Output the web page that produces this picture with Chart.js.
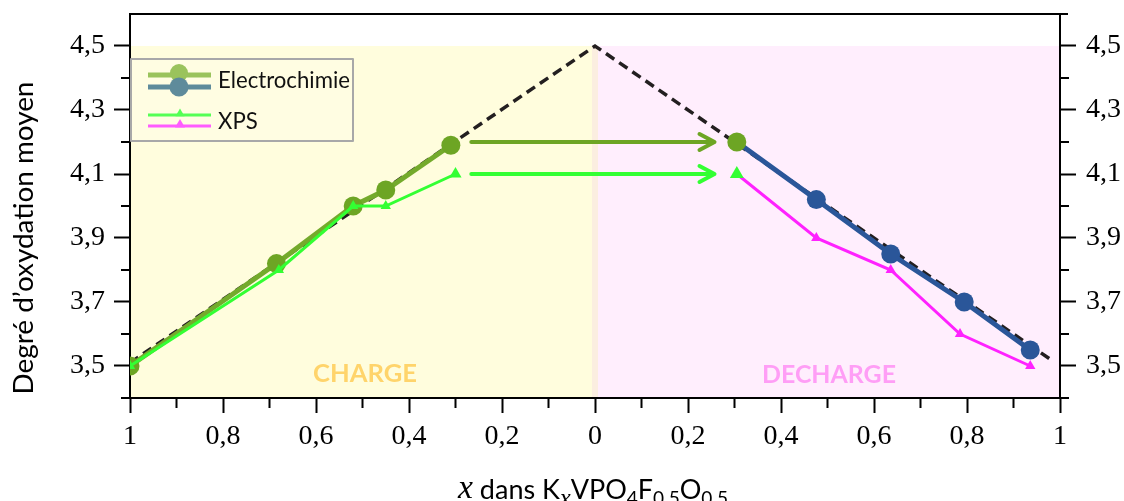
<!DOCTYPE html>
<html><head><meta charset="utf-8">
<script src="https://cdn.jsdelivr.net/npm/chart.js@4.4.1/dist/chart.umd.min.js"></script>
<style>html,body{margin:0;padding:0;background:#fff;}#wrap{width:1124px;height:501px;}</style>
</head><body><div id="wrap"><canvas id="c" width="1124" height="501"></canvas></div>
<script>
// ---- Data (x = value of x in KxVPO4F0.5O0.5) ----
const xTickPositions = [0, 0.2, 0.4, 0.6, 0.8, 1, 1.2, 1.4, 1.6, 1.8, 2];
const xTickLabels = ['1', '0,8', '0,6', '0,4', '0,2', '0', '0,2', '0,4', '0,6', '0,8', '1'];
const xMinorPositions = [0.1, 0.3, 0.5, 0.7, 0.9, 1.1, 1.3, 1.5, 1.7, 1.9];
const yTickValues = [3.5, 3.7, 3.9, 4.1, 4.3, 4.5];
const yTickLabels = ['3,5', '3,7', '3,9', '4,1', '4,3', '4,5'];
const yMinorValues = [3.4, 3.6, 3.8, 4.0, 4.2, 4.4];

const theoChargeX = [1, 0];
const theoChargeY = [3.51, 4.5];
const theoDischargeX = [0, 0.98];
const theoDischargeY = [4.5, 3.52];

const elecChargeX = [1, 0.685, 0.52, 0.45, 0.31];
const elecChargeY = [3.50, 3.82, 4.00, 4.05, 4.19];
const elecDischargeX = [0.305, 0.476, 0.636, 0.794, 0.936];
const elecDischargeY = [4.20, 4.02, 3.85, 3.70, 3.55];

const xpsChargeX = [1, 0.68, 0.52, 0.45, 0.30];
const xpsChargeY = [3.50, 3.80, 4.00, 4.00, 4.10];
const xpsDischargeX = [0.305, 0.476, 0.636, 0.785, 0.936];
const xpsDischargeY = [4.10, 3.90, 3.80, 3.60, 3.50];

const arrowFromX = [0.266, 0.266];   // charge side
const arrowToX = [0.257, 0.257];     // discharge side
const arrowY = [4.2, 4.1];
const arrowColors = ['#6DA524', '#33FF33'];

// position on the folded axis: charge runs 1 -> 0, discharge runs 0 -> 1
const chargePos = x => 1 - x;
const dischargePos = x => 1 + x;
const pts = (xs, ys, f) => xs.map((x, i) => ({x: f(x), y: ys[i]}));

const GREEN = '#6DA524', BLUE = '#2A5699', XGREEN = '#33FF33', MAG = '#FF22FF';

const theoData = pts(theoChargeX, theoChargeY, chargePos).concat(pts(theoDischargeX, theoDischargeY, dischargePos).slice(1));

function fitSize(ctx, text, style, family, target) {
  ctx.font = style + ' 100px ' + family;
  return 100 * target / ctx.measureText(text).width;
}

const decorPlugin = {
  id: 'decor',
  beforeDraw(chart) {
    const ctx = chart.ctx, xs = chart.scales.x, ys = chart.scales.y, ca = chart.chartArea;
    ctx.save();
    const top = ys.getPixelForValue(4.5), bot = ca.bottom;
    const x0 = xs.getPixelForValue(0), x1 = xs.getPixelForValue(1), x2 = xs.getPixelForValue(2);
    ctx.fillStyle = '#FFFDDD';
    ctx.fillRect(x0, top, x1 - x0, bot - top);
    ctx.fillStyle = '#FFEEFD';
    ctx.fillRect(x1, top, x2 - x1, bot - top);
    ctx.fillStyle = '#FBEEE0';
    ctx.fillRect(x1 - 3, top, 6, bot - top);
    // CHARGE / DECHARGE
    let s = fitSize(ctx, 'CHARGE', 'bold', 'Lato', 104);
    ctx.font = 'bold ' + s + 'px Lato';
    ctx.fillStyle = '#FFD46B';
    ctx.textAlign = 'center'; ctx.textBaseline = 'alphabetic';
    ctx.fillText('CHARGE', 365, 382);
    s = fitSize(ctx, 'DECHARGE', 'bold', 'Lato', 134);
    ctx.font = 'bold ' + s + 'px Lato';
    ctx.fillStyle = '#FF9EF6';
    ctx.fillText('DECHARGE', 829, 383);
    ctx.restore();
  },
  afterDraw(chart) {
    const ctx = chart.ctx, xs = chart.scales.x, ys = chart.scales.y, ca = chart.chartArea;
    ctx.save();
    // frame top
    ctx.strokeStyle = '#000'; ctx.lineWidth = 2;
    ctx.beginPath(); ctx.moveTo(ca.left - 1, ca.top); ctx.lineTo(ca.right + 8, ca.top); ctx.stroke();
    // minor ticks
    ctx.beginPath();
    xMinorPositions.forEach(v => { const p = xs.getPixelForValue(v); ctx.moveTo(p, ca.bottom); ctx.lineTo(p, ca.bottom + 10); });
    yMinorValues.forEach(v => { const p = ys.getPixelForValue(v); ctx.moveTo(ca.left, p); ctx.lineTo(ca.left - 9, p); ctx.moveTo(ca.right, p); ctx.lineTo(ca.right + 9, p); });
    ctx.stroke();
    // arrows
    arrowY.forEach((yv, i) => {
      const y = ys.getPixelForValue(yv);
      const xa = xs.getPixelForValue(chargePos(arrowFromX[i]));
      const xb = xs.getPixelForValue(dischargePos(arrowToX[i]));
      ctx.strokeStyle = arrowColors[i]; ctx.lineWidth = 4; ctx.lineCap = 'round'; ctx.lineJoin = 'round';
      ctx.beginPath(); ctx.moveTo(xa, y); ctx.lineTo(xb - 2, y); ctx.stroke();
      ctx.beginPath(); ctx.moveTo(xb - 15, y - 8); ctx.lineTo(xb, y); ctx.lineTo(xb - 15, y + 8); ctx.stroke();
    });
    ctx.lineCap = 'butt';
    // legend
    ctx.fillStyle = '#FFFDE2'; ctx.fillRect(131, 59, 222, 82);
    ctx.strokeStyle = '#A8A8A8'; ctx.lineWidth = 2; ctx.strokeRect(131, 59, 222, 82);
    const seg = (y, col, w) => { ctx.strokeStyle = col; ctx.lineWidth = w; ctx.beginPath(); ctx.moveTo(148, y); ctx.lineTo(211, y); ctx.stroke(); };
    const dot = (x, y, r, col) => { ctx.fillStyle = col; ctx.beginPath(); ctx.arc(x, y, r, 0, Math.PI * 2); ctx.fill(); };
    const tri = (x, y, r, col) => { ctx.fillStyle = col; ctx.beginPath(); ctx.moveTo(x, y - r); ctx.lineTo(x + r, y + r * 0.7); ctx.lineTo(x - r, y + r * 0.7); ctx.closePath(); ctx.fill(); };
    seg(75, '#9AC35C', 5); dot(179, 73, 9, '#9AC35C');
    seg(87, '#5E8B9B', 5); dot(179, 87, 9.5, '#5E8B9B');
    seg(115, '#55FF55', 3); tri(180, 113, 4.5, '#55FF55');
    seg(126, '#FF5CFF', 3); tri(180, 124, 5, '#FF5CFF');
    let s = fitSize(ctx, 'Electrochimie', '', 'Lato', 132);
    ctx.font = s + 'px Lato'; ctx.fillStyle = '#111'; ctx.textAlign = 'left'; ctx.textBaseline = 'alphabetic';
    ctx.fillText('Electrochimie', 218, 88);
    ctx.fillText('XPS', 218, 129);
    // y title
    s = fitSize(ctx, 'Degré d’oxydation moyen', '', 'Lato', 313);
    ctx.save();
    ctx.translate(33, 238); ctx.rotate(-Math.PI / 2);
    ctx.font = s + 'px Lato'; ctx.textAlign = 'center'; ctx.fillStyle = '#000';
    ctx.fillText('Degré d’oxydation moyen', 0, 0);
    ctx.restore();
    // x title with subscripts
    const parts = [
      {t: 'x', f: 'italic 30px "Liberation Serif"', dy: -1},
      {t: ' dans K', f: '24px Lato', dy: 0},
      {t: 'x', f: 'italic 22px "Liberation Serif"', dy: 7},
      {t: 'VPO', f: '24px Lato', dy: 0},
      {t: '4', f: '17px Lato', dy: 6},
      {t: 'F', f: '24px Lato', dy: 0},
      {t: '0.5', f: '17px Lato', dy: 6},
      {t: 'O', f: '24px Lato', dy: 0},
      {t: '0.5', f: '17px Lato', dy: 6}
    ];
    let total = 0;
    parts.forEach(p => { ctx.font = p.f; p.w = ctx.measureText(p.t).width; total += p.w; });
    const k = 270 / total;
    let cx = 593 - 270 / 2;
    ctx.fillStyle = '#000'; ctx.textAlign = 'left';
    parts.forEach(p => {
      ctx.font = p.f.replace(/(\d+)px/, (m, n) => (n * k).toFixed(1) + 'px');
      ctx.fillText(p.t, cx, 499 + p.dy);
      cx += p.w * k;
    });
    ctx.restore();
  }
};

const noPad = s => { s.paddingTop = 0; s.paddingBottom = 0; s.paddingLeft = 0; s.paddingRight = 0; };

const yAxisCommon = {
  type: 'linear', min: 3.4, max: 4.6,
  afterBuildTicks: s => { s.ticks = yTickValues.map(v => ({value: v})); },
  ticks: {callback: (v, i) => yTickLabels[i], font: {family: 'Liberation Serif', size: 28}, color: '#000', autoSkip: false},
  grid: {display: true, drawOnChartArea: false, drawTicks: true, tickLength: 16, tickWidth: 2, tickColor: '#000'},
  border: {display: true, color: '#000', width: 2}
};

new Chart(document.getElementById('c'), {
  type: 'line',
  data: {
    datasets: [
      {label: 'Théorique', data: theoData, borderColor: '#231F20', borderWidth: 3.5, borderDash: [10, 6], pointRadius: 0, order: 10, tension: 0},
      {label: 'Electrochimie charge', data: pts(elecChargeX, elecChargeY, chargePos), borderColor: '#74AA2C', backgroundColor: GREEN, pointBackgroundColor: GREEN, pointBorderWidth: 0, borderWidth: 5, pointRadius: 9.5, order: 5, tension: 0},
      {label: 'Electrochimie décharge', data: pts(elecDischargeX, elecDischargeY, dischargePos), borderColor: BLUE, pointBackgroundColor: elecDischargeX.map((v, i) => i === 0 ? GREEN : BLUE), pointBorderWidth: 0, borderWidth: 5, pointRadius: 9.5, order: 5, tension: 0},
      {label: 'XPS charge', data: pts(xpsChargeX, xpsChargeY, chargePos), borderColor: XGREEN, pointBackgroundColor: XGREEN, pointBorderWidth: 0, borderWidth: 3, pointStyle: 'triangle', pointRadius: xpsChargeX.map((v, i) => i === xpsChargeX.length - 1 ? 7 : 6), order: 1, tension: 0},
      {label: 'XPS décharge', data: pts(xpsDischargeX, xpsDischargeY, dischargePos), borderColor: MAG, pointBackgroundColor: xpsDischargeX.map((v, i) => i === 0 ? XGREEN : MAG), pointBorderWidth: 0, borderWidth: 3, pointStyle: 'triangle', pointRadius: xpsDischargeX.map((v, i) => i === 0 ? 8 : 6), order: 1, tension: 0}
    ]
  },
  options: {
    responsive: false, animation: false, devicePixelRatio: 1,
    layout: {padding: {top: 14, left: 0, right: 0, bottom: 0}},
    plugins: {legend: {display: false}, tooltip: {enabled: false}},
    scales: {
      x: {
        type: 'linear', min: 0, max: 2, position: 'bottom',
        afterBuildTicks: s => { s.ticks = xTickPositions.map(v => ({value: v})); },
        afterFit: s => { s.height = 103; noPad(s); },
        ticks: {callback: (v, i) => xTickLabels[i], font: {family: 'Liberation Serif', size: 28}, color: '#000', padding: 7, maxRotation: 0, autoSkip: false},
        grid: {display: true, drawOnChartArea: false, drawTicks: true, tickLength: 15, tickWidth: 2, tickColor: '#000'},
        border: {display: true, color: '#000', width: 2}
      },
      y: Object.assign({}, yAxisCommon, {position: 'left', afterFit: s => { s.width = 130; noPad(s); }, ticks: Object.assign({}, yAxisCommon.ticks, {padding: 9})}),
      y2: Object.assign({}, yAxisCommon, {position: 'right', afterFit: s => { s.width = 64; noPad(s); }, ticks: Object.assign({}, yAxisCommon.ticks, {padding: 10})})
    }
  },
  plugins: [decorPlugin]
});
</script>
</body></html>
